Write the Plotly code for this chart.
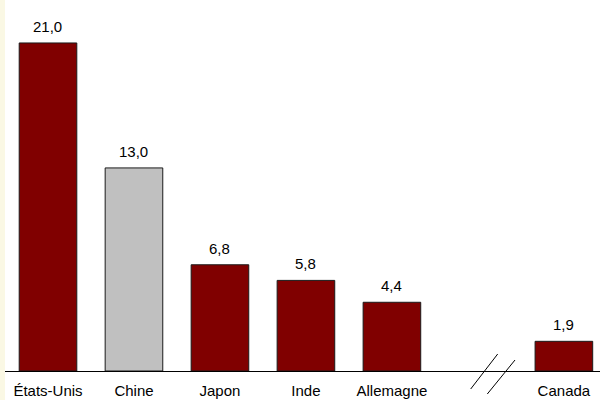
import plotly.graph_objects as go

# Pays et valeurs (positions sur l'axe : une place vide avant le Canada pour la coupure)
pays = ["États-Unis", "Chine", "Japon", "Inde", "Allemagne", "Canada"]
valeurs = [21.0, 13.0, 6.8, 5.8, 4.4, 1.9]
positions = [0, 1, 2, 3, 4, 6]
couleurs = ["#800000", "#C0C0C0", "#800000", "#800000", "#800000", "#800000"]

W, H = 600, 400
L, R, T, B = 5, 0, 0, 29
plot_w, plot_h = W - L - R, H - T - B


def px(x):
    return (x - L) / plot_w


def py(y):
    return (H - B - y) / plot_h


fig = go.Figure(
    go.Bar(
        x=positions,
        y=valeurs,
        width=0.67,
        marker=dict(color=couleurs, line=dict(color="#1a1a1a", width=1)),
        hoverinfo="skip",
    )
)

# Étiquettes de valeur au-dessus des barres (virgule décimale)
for xp, v in zip(positions, valeurs):
    fig.add_annotation(
        x=xp, y=v, text=f"{v:.1f}".replace(".", ","),
        showarrow=False, yanchor="bottom", yshift=6,
        font=dict(family="Liberation Sans, Arial", size=15, color="#000"),
    )

shapes = [
    # bande beige à gauche
    dict(type="rect", xref="paper", yref="paper", x0=px(0), x1=px(L), y0=py(H), y1=py(0),
         fillcolor="#FAF8E4", line=dict(width=0), layer="below"),
    # symbole de coupure de l'axe
    dict(type="line", xref="paper", yref="paper", x0=px(470.7), y0=py(389), x1=px(497.7), y1=py(354),
         line=dict(color="#000", width=1)),
    dict(type="line", xref="paper", yref="paper", x0=px(487.3), y0=py(394), x1=px(515), y1=py(360),
         line=dict(color="#000", width=1)),
]

fig.update_layout(
    width=W, height=H,
    margin=dict(l=L, r=R, t=T, b=B, autoexpand=False),
    paper_bgcolor="white", plot_bgcolor="white",
    showlegend=False,
    shapes=shapes,
    font=dict(family="Liberation Sans, Arial", color="#000"),
    xaxis=dict(
        range=[-0.5, 6.42], tickvals=positions, ticktext=pays,
        showgrid=False, zeroline=False, showline=True, linecolor="#000", linewidth=1,
        ticks="", tickfont=dict(size=15, color="#000"), ticklabelstandoff=6,
        automargin=False, fixedrange=True,
    ),
    yaxis=dict(range=[0, 23.75], visible=False, showgrid=False, zeroline=False,
               automargin=False, fixedrange=True),
)

fig.write_html("out.html", config={"displayModeBar": False})
